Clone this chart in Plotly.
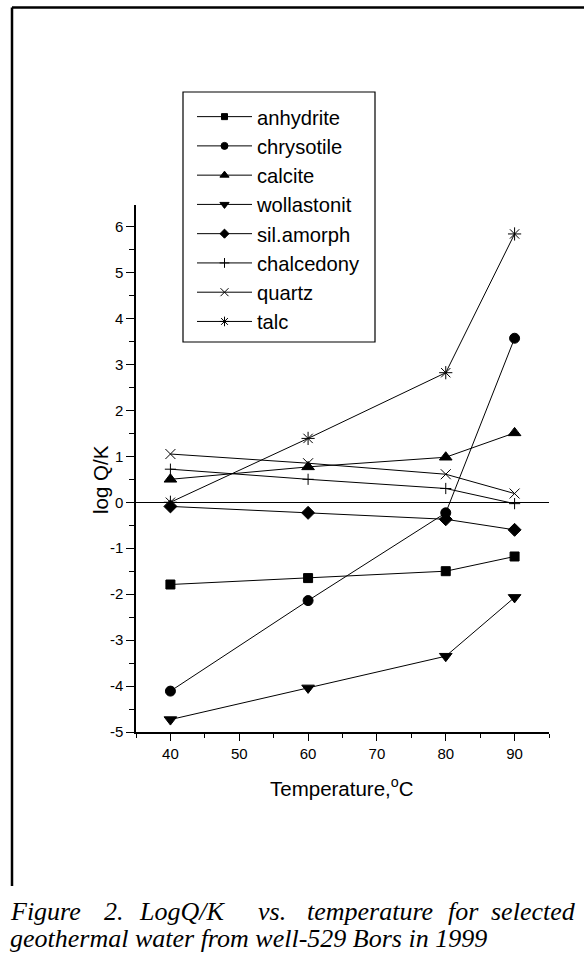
import plotly.graph_objects as go

temperature = [40, 60, 80, 90]
anhydrite = [-1.79, -1.65, -1.50, -1.18]
chrysotile = [-4.11, -2.14, -0.23, 3.57]
calcite = [0.50, 0.77, 0.98, 1.51]
wollastonit = [-4.73, -4.04, -3.35, -2.07]
sil_amorph = [-0.09, -0.23, -0.37, -0.60]
chalcedony = [0.72, 0.50, 0.30, -0.03]
quartz = [1.05, 0.85, 0.61, 0.19]
talc = [0.00, 1.39, 2.82, 5.84]

series_names = ["anhydrite", "chrysotile", "calcite", "wollastonit",
                "sil.amorph", "chalcedony", "quartz", "talc"]
series_values = [anhydrite, chrysotile, calcite, wollastonit,
                 sil_amorph, chalcedony, quartz, talc]
symbols = ["square", "circle", "triangle-up", "triangle-down",
           "diamond", "cross-thin-open", "x-thin-open", "asterisk-open"]
plot_sizes = [9, 10, 11, 11, 10, 8, 10, 11]
legend_sizes = [6, 7, 8, 8, 7, 7, 8, 8]

x_ticks = [40, 50, 60, 70, 80, 90]
y_ticks = [-5, -4, -3, -2, -1, 0, 1, 2, 3, 4, 5, 6]

caption_line1 = ["Figure", "2.", "LogQ/K", "vs.", "temperature", "for", "selected"]
caption_line2 = "geothermal water from well-529 Bors in 1999"

W, H = 584, 953
PL, PR, PT, PB = 136, 549, 205, 732


def px(x):
    return (x - PL) / (PR - PL)


def py(y):
    return (PB - y) / (PB - PT)


fig = go.Figure()

for name, vals, sym, s in zip(series_names, series_values, symbols, plot_sizes):
    fig.add_trace(go.Scatter(
        x=temperature, y=vals, mode="lines+markers", name=name,
        showlegend=False,
        line=dict(color="black", width=1),
        marker=dict(symbol=sym, size=s, color="black",
                    line=dict(color="black", width=1)),
    ))

for name, sym, s in zip(series_names, symbols, legend_sizes):
    fig.add_trace(go.Scatter(
        x=[None], y=[None], mode="lines+markers", name=name,
        line=dict(color="black", width=1),
        marker=dict(symbol=sym, size=s, color="black",
                    line=dict(color="black", width=1)),
    ))

axis_font = dict(family="Liberation Sans, Arial", size=15, color="black")

fig.update_layout(
    width=W, height=H,
    margin=dict(l=PL, r=W - PR, t=PT, b=H - PB, pad=0),
    paper_bgcolor="white", plot_bgcolor="white",
    showlegend=True,
    legend=dict(
        x=px(192), y=py(97), xanchor="left", yanchor="top",
        bgcolor="rgba(0,0,0,0)", borderwidth=0,
        font=dict(family="Liberation Sans, Arial", size=20.2, color="black"),
        itemwidth=55,
        tracegroupgap=0,
    ),
    xaxis=dict(
        range=[35, 95], tickvals=x_ticks, ticktext=[str(v) for v in x_ticks],
        showline=True, linecolor="black", linewidth=1.5,
        ticks="outside", ticklen=7, tickwidth=1.3, tickcolor="black",
        minor=dict(dtick=5, tick0=35, ticks="outside", ticklen=4,
                   tickwidth=1.3, tickcolor="black"),
        showgrid=False, zeroline=False, tickfont=axis_font,
        mirror=False,
    ),
    yaxis=dict(
        range=[-5, 6.47], tickvals=y_ticks, ticktext=[str(v) for v in y_ticks],
        showline=True, linecolor="black", linewidth=1.5,
        ticks="outside", ticklen=8, tickwidth=1.3, tickcolor="black",
        minor=dict(dtick=0.5, tick0=-5, ticks="outside", ticklen=5,
                   tickwidth=1.3, tickcolor="black"),
        showgrid=False, zeroline=True, zerolinecolor="black",
        zerolinewidth=1.3, tickfont=axis_font,
    ),
)

# legend frame
fig.add_shape(type="rect", xref="paper", yref="paper",
              x0=px(183), y0=py(342), x1=px(375), y1=py(92),
              line=dict(color="black", width=1.2), fillcolor="white",
              layer="below")

# axis titles
fig.add_annotation(
    text="Temperature,<sup>o</sup>C", xref="paper", yref="paper",
    x=px(342), y=py(787), xanchor="center", yanchor="middle",
    showarrow=False,
    font=dict(family="Liberation Sans, Arial", size=20.5, color="black"),
)
fig.add_annotation(
    text="log Q/K", xref="paper", yref="paper",
    x=px(100), y=py(480), xanchor="center", yanchor="middle",
    textangle=-90, showarrow=False,
    font=dict(family="Liberation Sans, Arial", size=20.5, color="black"),
)

# page border (left and top)
fig.add_shape(type="line", xref="paper", yref="paper",
              x0=px(12), y0=py(7.5), x1=px(600), y1=py(7.5),
              line=dict(color="black", width=2.5))
fig.add_shape(type="line", xref="paper", yref="paper",
              x0=px(12), y0=py(7.5), x1=px(12), y1=py(886),
              line=dict(color="black", width=2.5))

# caption (justified first line, words placed individually)
cap_font = dict(family="Liberation Serif, Times New Roman", size=26,
                color="black")
line1_x = [8, 102, 137, 256, 305, 446, 578]
for i, (w, xx) in enumerate(zip(caption_line1, line1_x)):
    fig.add_annotation(
        text="<i>" + w + "</i>", xref="paper", yref="paper",
        x=px(xx), y=py(911),
        xanchor="right" if i == len(caption_line1) - 1 else "left",
        yanchor="middle", showarrow=False, font=cap_font,
    )
fig.add_annotation(
    text="<i>" + caption_line2 + "</i>",
    xref="paper", yref="paper",
    x=px(8), y=py(938), xanchor="left", yanchor="middle",
    showarrow=False, font=cap_font,
)

fig.write_html("out.html")
